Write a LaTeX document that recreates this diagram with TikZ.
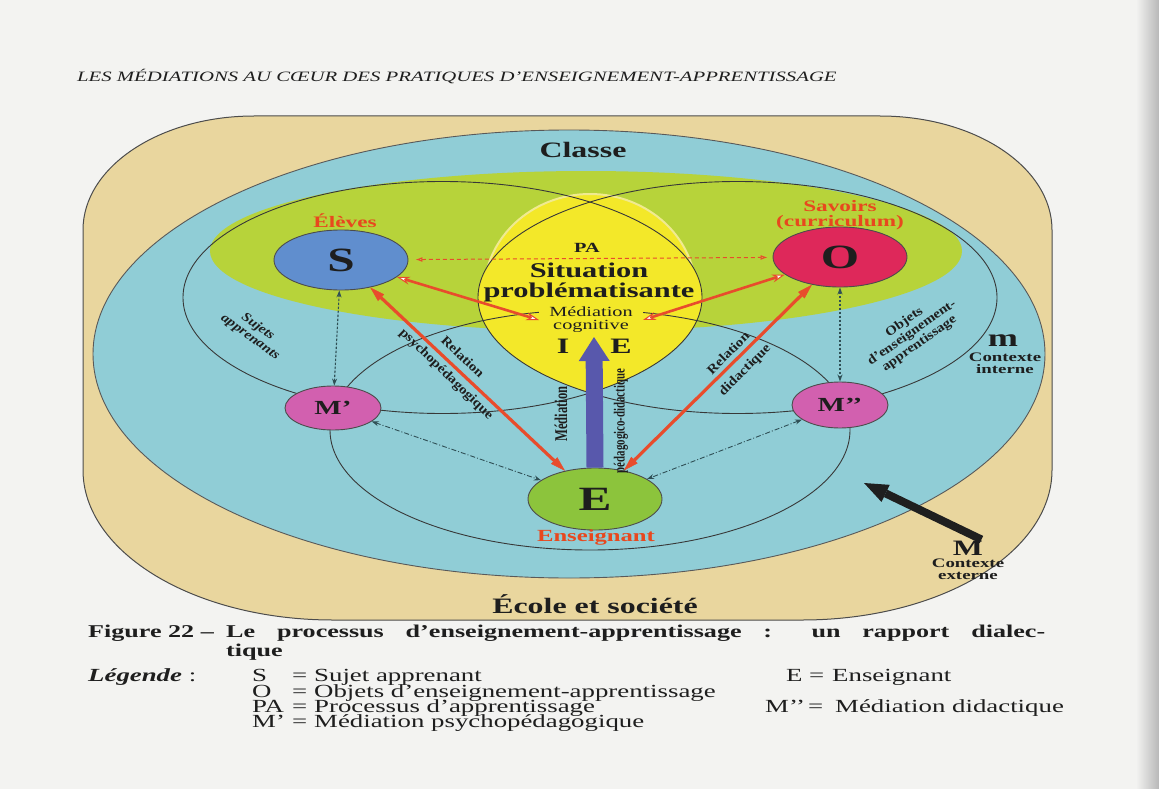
\documentclass[tikz,border=0pt]{standalone}
\usepackage{fontspec}
\setmainfont{Liberation Serif}
\newfontfamily\widefont[FakeStretch=1.45]{Liberation Serif}
\newfontfamily\narrowfont[FakeStretch=0.7]{Liberation Serif}
\newfontfamily\slantfont[FakeStretch=1.15]{Liberation Serif}
\usetikzlibrary{shapes.geometric,arrows.meta}
\newcommand\fsize[2]{\fontsize{#1}{#2}\selectfont}

\definecolor{pagebg}{HTML}{F3F3F1}
\definecolor{frametan}{HTML}{E9D69E}
\definecolor{classcyan}{HTML}{90CDD6}
\definecolor{bandgreen}{HTML}{B7D33A}
\definecolor{lensyellow}{HTML}{F3E829}
\definecolor{lensrim}{HTML}{F0EA90}
\definecolor{sblue}{HTML}{608ECE}
\definecolor{ored}{HTML}{DE285A}
\definecolor{mpink}{HTML}{D260AF}
\definecolor{egreen}{HTML}{8CC43C}
\definecolor{redc}{HTML}{E84C2C}
\definecolor{labelorange}{HTML}{E8481E}
\definecolor{arrowblue}{HTML}{5858AC}
\definecolor{dotc}{HTML}{2F4F55}
\definecolor{inkc}{HTML}{1E1E1E}

\begin{document}
\begin{tikzpicture}[x=1pt,y=-1pt,
  venn/.style={draw=black!78,line width=0.9},
  disc/.style={ellipse,draw=black!70,line width=0.9,inner sep=0pt,text=inkc},
  letter/.style={font=\widefont\bfseries\fsize{34}{34}},
  mletter/.style={font=\widefont\bfseries\fsize{20}{20}},
  lbl/.style={inner sep=0pt,text=inkc,align=center},
  orangelbl/.style={inner sep=0pt,text=labelorange,align=center,font=\widefont\bfseries\fsize{16}{15}},
  slanted/.style={inner sep=0pt,text=inkc,align=center,font=\slantfont\bfseries\fsize{13}{13}},
  relation/.style={inner sep=0pt,text=inkc,align=center,font=\slantfont\bfseries\fsize{13}{23}},
  redarrow/.style={draw=redc,line width=3.2,
    {Triangle[length=15pt,width=9pt,line width=0.5pt]}-{Triangle[length=15pt,width=9pt,line width=0.5pt]}},
  cogarrow/.style={draw=redc,line width=2.6,
    {Stealth[length=13pt,width=8pt,fill=white,line width=1pt]}-{Stealth[length=13pt,width=8pt,fill=white,line width=1pt]}},
  padashed/.style={draw=redc,line width=1,dash pattern=on 4pt off 3pt,
    {Latex[open,length=7pt,width=5pt]}-{Latex[open,length=7pt,width=5pt]}},
  dotarrow/.style={draw=dotc,line width=1.1,dash pattern=on 2.5pt off 1.5pt,
    {Stealth[length=7pt,width=5pt]}-{Stealth[length=7pt,width=5pt]}},
  dasharrow/.style={draw=dotc,line width=0.9,dash pattern=on 5pt off 2pt on 1pt off 2pt,
    {Stealth[length=7pt,width=5pt]}-{Stealth[length=7pt,width=5pt]}},
  bluearrow/.style={draw=arrowblue,line width=17,-{Triangle[length=24pt,width=31pt,line width=0pt]}},
  blackarrow/.style={draw=black!88,line width=8,-{Triangle[length=24pt,width=19pt,line width=0pt]}},
  legend/.style={inner sep=0pt,anchor=base west,text=inkc,font=\widefont\fsize{18.5}{18}},
  caption/.style={inner sep=0pt,anchor=base west,text=inkc,font=\widefont\bfseries\fsize{18}{18}}
]
\useasboundingbox (0,0) rectangle (1159,789);

% page
\fill[pagebg] (0,0) rectangle (1159,789);
\shade[left color=pagebg,right color=black!28] (1136,0) rectangle (1159,789);

% running head
\node[inner sep=0pt,anchor=base west,text=inkc,font=\widefont\itshape\fsize{14.3}{14}] (head) at (77,82)
  {LES MÉDIATIONS AU CŒUR DES PRATIQUES D’ENSEIGNEMENT-APPRENTISSAGE};

% school and society frame
\filldraw[fill=frametan,draw=black!70,line width=1]
  (254,116) -- (880,116) arc[start angle=-90,end angle=0,x radius=172,y radius=114]
  -- (1052,470) arc[start angle=0,end angle=90,x radius=250,y radius=150]
  -- (333,620) arc[start angle=90,end angle=180,x radius=250,y radius=150]
  -- (83,230) arc[start angle=180,end angle=270,x radius=171,y radius=114] -- cycle;

% class
\filldraw[fill=classcyan,draw=black!65,line width=0.9] (569,354) ellipse [x radius=476,y radius=224];
% band of learners and knowledge
\fill[bandgreen] (586,251) ellipse [x radius=376,y radius=80];

% problem situation: overlap of the two upper sets, rounded at the top
\begin{scope}
  \clip (0,0) rectangle (1159,297.5);
  \filldraw[fill=lensyellow,draw=lensrim,line width=2] (590,293) ellipse [x radius=106,y radius=99];
\end{scope}
\begin{scope}
  \clip (442.5,297.5) ellipse [x radius=259.5,y radius=116];
  \fill[lensyellow] (737.5,297.5) ellipse [x radius=259.5,y radius=116];
\end{scope}

% the three sets
\draw[venn] (442.5,297.5) ellipse [x radius=259.5,y radius=116];
\draw[venn] (737.5,297.5) ellipse [x radius=259.5,y radius=116];
\draw[venn] (590,430) ellipse [x radius=260,y radius=120];

% poles
\node[disc,letter,fill=sblue,minimum width=134,minimum height=60] (S) at (341,260) {S};
\node[disc,letter,fill=ored,minimum width=134,minimum height=60] (O) at (840,257) {O};
\node[disc,letter,fill=egreen,minimum width=134,minimum height=62] (E) at (595,499) {E};
\node[disc,mletter,fill=mpink,minimum width=96,minimum height=44] (Mp) at (333,408) {M’};
\node[disc,mletter,fill=mpink,minimum width=96,minimum height=46] (Mpp) at (840,405) {M’’};

% texts of the diagram
\node[lbl,font=\widefont\bfseries\fsize{22}{22}] (classe) at (583,150) {Classe};
\node[lbl,font=\widefont\bfseries\fsize{22}{22}] (ecole) at (595,604) {École et société};
\node[orangelbl] (eleves) at (345,221) {Élèves};
\node[orangelbl] (savoirs) at (840,215) {Savoirs\\(curriculum)};
\node[orangelbl,font=\widefont\bfseries\fsize{17}{17}] (enseignant) at (596,537) {Enseignant};
\node[lbl,font=\widefont\bfseries\fsize{14}{14}] (pa) at (587,248) {PA};
\node[lbl,anchor=base,font=\widefont\bfseries\fsize{21}{21}] (sit) at (589,277) {Situation};
\node[lbl,anchor=base,font=\widefont\bfseries\fsize{21}{21}] (prob) at (589,297) {problématisante};
\node[lbl,fill=lensyellow,inner xsep=10pt,inner ysep=0pt,font=\widefont\fsize{14}{13}] (mcog) at (591,320) {Médiation\\cognitive};
\node[lbl,font=\widefont\bfseries\fsize{22}{22}] (lblI) at (563,346) {I};
\node[lbl,font=\widefont\bfseries\fsize{22}{22}] (lblE) at (621,346) {E};
\node[lbl,rotate=90,font=\narrowfont\bfseries\fsize{18}{18}] (medv) at (561,414) {Médiation};
\node[lbl,rotate=90,font=\narrowfont\bfseries\fsize{15.5}{15.5}] (pedv) at (621,421) {pédagogico-didactique};
\node[slanted,rotate=-36,font=\slantfont\bfseries\itshape\fsize{13}{13}] (sujets) at (254,332) {Sujets\\apprenants};
\node[relation,rotate=-44] (relpsy) at (454,366) {Relation\\psychopédagogique};
\node[relation,rotate=45] (reldid) at (737,362) {Relation\\didactique};
\node[slanted,rotate=35] (objets) at (912,333) {Objets\\d’enseignement-\\apprentissage};
\node[lbl,font=\widefont\bfseries\fsize{25}{25}] (mint) at (1003,341) {m};
\node[lbl,font=\widefont\bfseries\fsize{13}{12}] (ctxint) at (1005,363) {Contexte\\interne};
\node[lbl,anchor=base,font=\widefont\bfseries\fsize{22}{22}] (Mext) at (968,555) {M};
\node[lbl,anchor=base,font=\widefont\bfseries\fsize{13}{13}] (ctxext1) at (968,567) {Contexte};
\node[lbl,anchor=base,font=\widefont\bfseries\fsize{13}{13}] (ctxext2) at (968,579) {externe};
\coordinate (ietip) at (594,337);
\coordinate (Mtip) at (864,483);

% relations
\draw[padashed,shorten <=7pt,shorten >=5pt] (S) -- (O);
\draw[cogarrow] (mcog.west) -- (S);
\draw[cogarrow] (mcog.east) -- (O);
\draw[redarrow] (S) -- (E);
\draw[redarrow] (O) -- (E);
\draw[dotarrow] (S) -- (Mp);
\draw[dotarrow] (O) -- (Mpp);
\draw[dasharrow] (Mp) -- (E);
\draw[dasharrow] (Mpp) -- (E);
\draw[bluearrow] (E.north) -- (ietip);
\draw[blackarrow,shorten <=2pt] (Mext.north east) -- (Mtip);

% caption
\node[caption] (fig) at (88,637) {Figure 22 –};
\node[caption] (cap1) at (226,637) {\makebox[819pt][s]{Le processus d’enseignement-apprentissage : un rapport dialec-}};
\node[caption] (cap2) at (226,656) {tique};

% legend
\node[legend] (leg) at (88,681) {\textbf{\textit{Légende}} :};
\node[legend] (l1) at (252,681) {\makebox[40pt][l]{S}\makebox[22pt][l]{=}Sujet apprenant};
\node[legend] (l2) at (252,697) {\makebox[40pt][l]{O}\makebox[22pt][l]{=}Objets d’enseignement-apprentissage};
\node[legend] (l3) at (252,712) {\makebox[40pt][l]{PA}\makebox[22pt][l]{=}Processus d’apprentissage};
\node[legend] (l4) at (252,727) {\makebox[40pt][l]{M’}\makebox[22pt][l]{=}Médiation psychopédagogique};
\node[legend] (r1) at (786,681) {\makebox[23pt][l]{E}\makebox[23pt][l]{=}Enseignant};
\node[legend] (r2) at (765,712) {\makebox[43pt][l]{M’’}\makebox[27pt][l]{=}Médiation didactique};
\end{tikzpicture}
\end{document}
